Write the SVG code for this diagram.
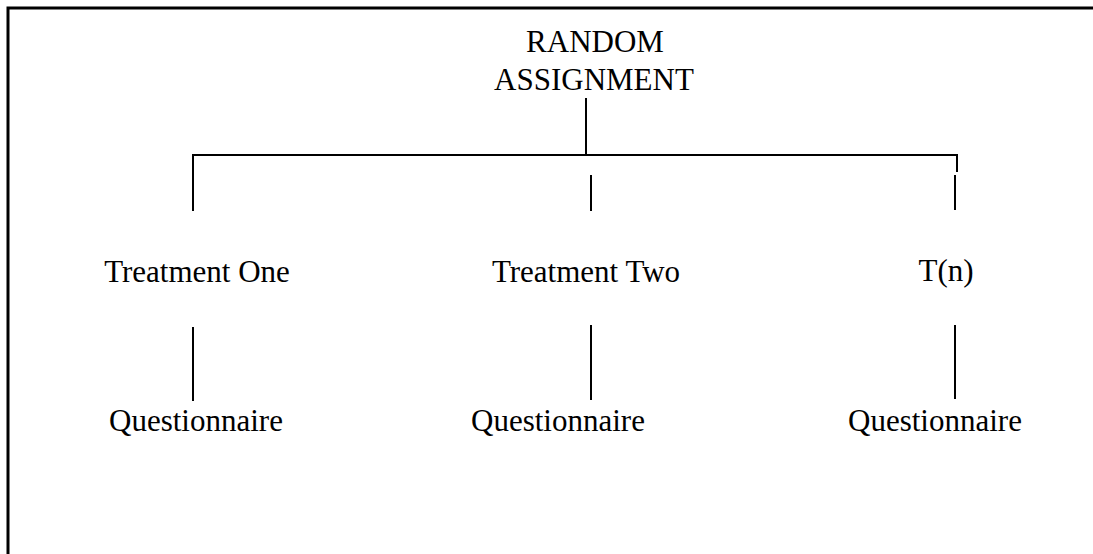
<svg xmlns="http://www.w3.org/2000/svg" width="1093" height="554" viewBox="0 0 1093 554">
<style>
.t{font-family:"Liberation Serif","Times New Roman",serif;font-size:31px;fill:#000;text-anchor:middle}
.c line{stroke:#000;stroke-width:2;fill:none}
.b{stroke:#000;stroke-width:3;fill:none}
</style>
<rect width="1093" height="554" fill="#fff"/>
<path class="b" d="M8,554 L8,8 L1093,8"/>
<g id="connectors" class="c">
<line x1="586" y1="98" x2="586" y2="155"/>
<line x1="192" y1="155" x2="958" y2="155"/>
<line x1="193" y1="154" x2="193" y2="211"/>
<line x1="957" y1="154" x2="957" y2="172"/>
<line x1="955" y1="175" x2="955" y2="210"/>
<line x1="591" y1="175" x2="591" y2="211"/>
<line x1="193" y1="327" x2="193" y2="401"/>
<line x1="591" y1="325" x2="591" y2="400"/>
<line x1="955" y1="325" x2="955" y2="399"/>
</g>
<g id="random"><text class="t" x="595" y="52">RANDOM</text><text class="t" x="594" y="90">ASSIGNMENT</text></g>
<g id="t1"><text class="t" x="197" y="282">Treatment One</text></g>
<g id="t2"><text class="t" x="586" y="282">Treatment Two</text></g>
<g id="tn"><text class="t" x="946" y="281">T(n)</text></g>
<g id="q1"><text class="t" x="196" y="431">Questionnaire</text></g>
<g id="q2"><text class="t" x="558" y="431">Questionnaire</text></g>
<g id="q3"><text class="t" x="935" y="431">Questionnaire</text></g>
</svg>
